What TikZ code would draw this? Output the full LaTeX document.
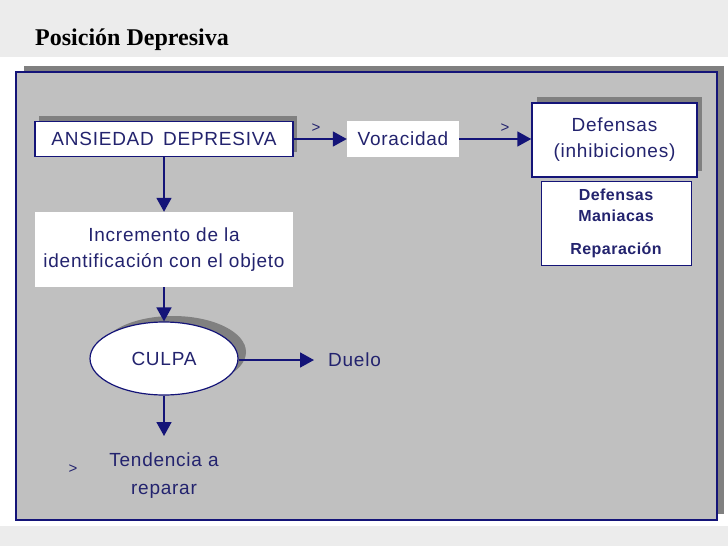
\documentclass[tikz,border=0pt]{standalone}
\usepackage{fontspec}
\setmainfont{Liberation Sans}[LetterSpace=4]
\newfontfamily\titlefont{Liberation Serif}
\newfontfamily\boldsans{Liberation Sans}[LetterSpace=3]
\usetikzlibrary{arrows.meta,shapes.geometric}
\definecolor{navy}{RGB}{20,20,120}
\definecolor{txtblue}{RGB}{35,35,110}
\definecolor{panel}{RGB}{192,192,192}
\definecolor{shad}{RGB}{128,128,128}
\definecolor{bgtex}{RGB}{236,236,236}
\tikzset{
  conn/.style={draw=navy,line width=1.8pt,-{Triangle[length=14pt,width=15pt]}},
  lbl/.style={text=txtblue,font=\fontsize{19}{26}\selectfont,align=center},
  whitebox/.style={fill=white,inner sep=0pt,lbl},
  gt/.style={text=txtblue,font=\fontsize{15}{18}\selectfont}
}
\begin{document}
\begin{tikzpicture}[x=1pt,y=-1pt]
\useasboundingbox (0,0) rectangle (728,546);
% background
\fill[bgtex] (0,0) rectangle (728,57);
\fill[white] (0,57) rectangle (728,526);
\fill[bgtex] (0,526) rectangle (728,546);
% title
\node[anchor=base west,inner sep=0pt,font=\titlefont\bfseries\fontsize{24}{26}\selectfont] (title) at (35,45) {Posición Depresiva};
% panel
\fill[shad] (24,66) rectangle (724,514);
\draw[navy,line width=1.5pt,fill=panel] (16,72) rectangle (717,520);
% ANSIEDAD
\fill[shad] (39,116) rectangle (297,152);
\node[draw=navy,line width=1.5pt,fill=white,minimum width=258pt,minimum height=35pt,lbl,inner sep=0pt] (ans) at (164,139) {ANSIEDAD\, DEPRESIVA};
% Voracidad
\node[whitebox,minimum width=112pt,minimum height=36pt] (vor) at (403,139) {Voracidad};
% Defensas
\fill[shad] (537,97) rectangle (702,171);
\node[draw=navy,line width=1.5pt,fill=white,minimum width=165pt,minimum height=74pt,lbl,inner sep=0pt] (def) at (614.5,140) {Defensas\\(inhibiciones)};
% Defensas maniacas
\node[draw=navy,line width=0.8pt,fill=white,minimum width=150pt,minimum height=84pt,inner sep=0pt,text=txtblue,font=\boldsans\bfseries\fontsize{16}{22}\selectfont,align=center] (man) at (616,223) {Defensas\\[-1pt]Maniacas\\[11pt]Reparación};
% Incremento
\node[whitebox,minimum width=258pt,minimum height=75pt] (inc) at (164,249.5) {Incremento de la\\identificación con el objeto};
% CULPA
\fill[shad] (173,352) ellipse [x radius=73pt,y radius=36pt];
\node[ellipse,draw=navy,line width=1.2pt,fill=white,minimum width=148pt,minimum height=73pt,lbl,inner sep=0pt] (culpa) at (164,358.5) {CULPA};
% Duelo
\node[lbl,anchor=west,inner sep=0pt] (duelo) at (328,360) {Duelo};
\coordinate (dueloend) at (314,360);
% Tendencia
\node[lbl,inner sep=0pt,font=\fontsize{19}{28}\selectfont] (tend) at (164,476) {Tendencia a\\reparar};
\coordinate (tendend) at (164,436);
% connectors
\draw[conn] (ans.east) -- (vor.west);
\draw[conn] (vor.east) -- (vor.east -| def.west);
\draw[conn] (ans.south) -- (inc.north);
\draw[conn] (inc.south) -- (culpa.north);
\draw[conn] (culpa.east |- dueloend) -- (dueloend);
\draw[conn] (culpa.south) -- (tendend);
% > marks
\node[gt] (g1) at (316,128) {>};
\node[gt] (g2) at (505,128) {>};
\node[gt] (g3) at (73,469) {>};
\end{tikzpicture}
\end{document}
